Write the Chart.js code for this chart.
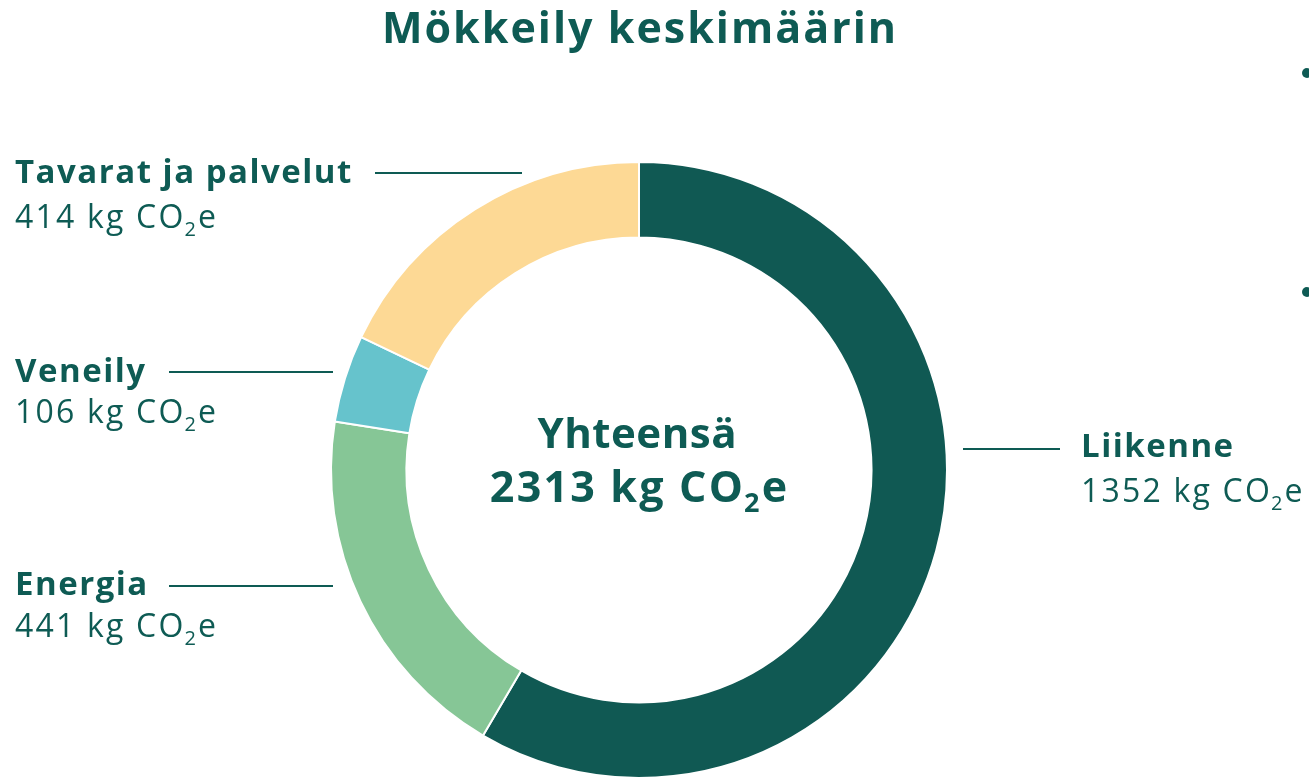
<!DOCTYPE html>
<html lang="fi">
<head>
<meta charset="utf-8">
<script src="https://cdn.jsdelivr.net/npm/chart.js@4/dist/chart.umd.min.js"></script>
<style>
  html, body { margin: 0; padding: 0; background: #ffffff; overflow: hidden; }
  #wrap { position: relative; width: 1309px; height: 781px; }
  canvas { display: block; }
</style>
</head>
<body>
<div id="wrap"><canvas id="c" width="1309" height="781"></canvas></div>
<script>
// ---- data ----
const chartTitle = 'Mökkeily keskimäärin';
const totalLabel = 'Yhteensä';
const unitPrefix = 'kg CO';
const unitSub = '2';
const unitSuffix = 'e';
const categories = ['Liikenne', 'Energia', 'Veneily', 'Tavarat ja palvelut'];
const values = [1352, 441, 106, 414];
const sliceColors = ['#105953', '#86c696', '#66c3cc', '#fdd995'];

// ---- layout / style (not data) ----
const TEXT = '#0e5b54';
const FONT = '"Open Sans", "Noto Sans", sans-serif';
// styles: [size, weight, letterSpacing]
const ST_TITLE = [43, '700', 2.0];
const ST_CENTER = [42, '700', 0.5];
const ST_CENTER_NUM = [43, '700', 2.2];
const ST_NAME = [33, '700', 1.5];
const ST_VALUE = [32, '400', 2.2];
// label anchor positions: [textX, nameBaseline, valueBaseline, lineX1, lineX2, lineY]
const labelLayout = [
  [1081, 457, 502, 963, 1060, 449],
  [15, 595, 637, 169, 333, 586],
  [15, 382, 423, 169, 333, 372],
  [15, 183, 228, 375, 522, 173]
];
const bulletDots = [[1307, 73], [1307, 292]];

function setFont(ctx, st, size) {
  ctx.font = st[1] + ' ' + (size || st[0]) + 'px ' + FONT;
  ctx.letterSpacing = st[2] + 'px';
}

function unitWidth(ctx, lead, st) {
  setFont(ctx, st);
  const w1 = ctx.measureText(lead + ' ' + unitPrefix).width;
  const w3 = ctx.measureText(unitSuffix).width;
  setFont(ctx, st, Math.round(st[0] * 0.62));
  const w2 = ctx.measureText(unitSub).width;
  return w1 + w2 + w3;
}

function drawUnit(ctx, lead, x, y, st) {
  const size = st[0];
  setFont(ctx, st);
  const s = lead + ' ' + unitPrefix;
  ctx.fillText(s, x, y);
  const w = ctx.measureText(s).width;
  setFont(ctx, st, Math.round(size * 0.62));
  ctx.fillText(unitSub, x + w - st[2] * 0.5, y + size * 0.24);
  const sw = ctx.measureText(unitSub).width;
  setFont(ctx, st);
  ctx.fillText(unitSuffix, x + w + sw - st[2] * 0.5, y);
}

const overlay = {
  id: 'overlay',
  afterDraw(chart) {
    const ctx = chart.ctx;
    const arc = chart.getDatasetMeta(0).data[0];
    const cx = arc.x, cy = arc.y;
    ctx.save();
    ctx.fillStyle = TEXT;
    ctx.strokeStyle = TEXT;
    ctx.textBaseline = 'alphabetic';
    ctx.textAlign = 'left';

    // title
    setFont(ctx, ST_TITLE);
    let tw = ctx.measureText(chartTitle).width - ST_TITLE[2];
    ctx.fillText(chartTitle, cx - tw / 2, 43);

    // center total
    const total = values.reduce((a, b) => a + b, 0);
    setFont(ctx, ST_CENTER);
    tw = ctx.measureText(totalLabel).width - ST_CENTER[2];
    ctx.fillText(totalLabel, cx - tw / 2 - 2, cy - 22);
    const uw = unitWidth(ctx, String(total), ST_CENTER_NUM) - ST_CENTER_NUM[2];
    drawUnit(ctx, String(total), cx - uw / 2, cy + 32, ST_CENTER_NUM);

    // labels
    categories.forEach((name, i) => {
      const [tx, b1, b2, lx1, lx2, ly] = labelLayout[i];
      setFont(ctx, ST_NAME);
      ctx.fillText(name, tx, b1);
      drawUnit(ctx, String(values[i]), tx, b2, ST_VALUE);
      ctx.lineWidth = 2;
      ctx.beginPath();
      ctx.moveTo(lx1, ly);
      ctx.lineTo(lx2, ly);
      ctx.stroke();
    });

    // cropped bullet dots at the right edge
    bulletDots.forEach(([x, y]) => {
      ctx.beginPath();
      ctx.arc(x, y, 5, 0, Math.PI * 2);
      ctx.fill();
    });
    ctx.restore();
  }
};

new Chart(document.getElementById('c'), {
  type: 'doughnut',
  data: {
    labels: categories,
    datasets: [{
      data: values,
      backgroundColor: sliceColors,
      borderColor: '#ffffff',
      borderWidth: 2,
      hoverOffset: 0
    }]
  },
  options: {
    responsive: false,
    animation: false,
    radius: 308,
    cutout: '75.5%',
    layout: { padding: { left: 0, right: 31, top: 159, bottom: 0 } },
    plugins: {
      legend: { display: false },
      tooltip: { enabled: false },
      title: { display: false }
    }
  },
  plugins: [overlay]
});
</script>
</body>
</html>
